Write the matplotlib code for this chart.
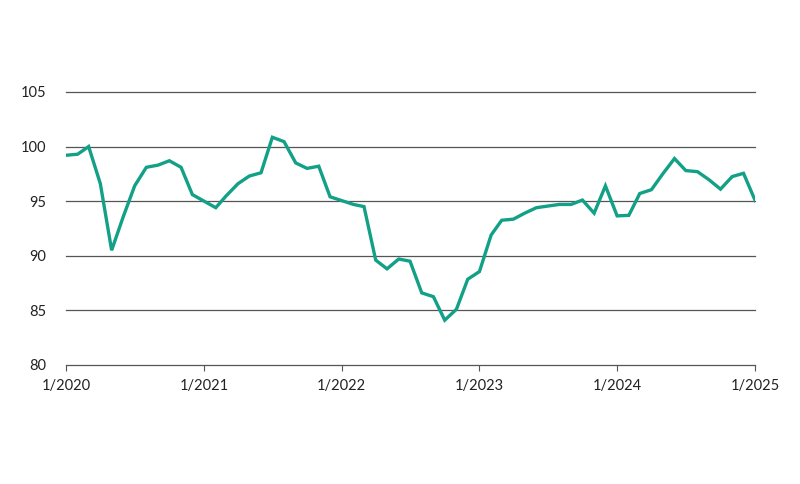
import numpy as np
import pandas as pd
import matplotlib
matplotlib.use('Agg')
import matplotlib.pyplot as plt

# monthly index values, 1/2020 .. 1/2025
values = [
  99.2, 99.3, 100.0, 96.6, 90.5, 93.6, 96.4, 98.1, 98.3, 98.7, 98.1, 95.6,
  95.0, 94.4, 95.5, 96.6, 97.3, 97.6, 100.85, 100.45, 98.5, 98.0, 98.2, 95.4,
  95.05, 94.7, 94.5, 89.6, 88.8, 89.7, 89.5, 86.6, 86.25, 84.1, 85.1, 87.85,
  88.55, 91.9, 93.25, 93.35, 93.9, 94.4, 94.55, 94.7, 94.7, 95.1, 93.9, 96.4,
  93.65, 93.7, 95.7, 96.05, 97.5, 98.9, 97.8, 97.7, 96.95, 96.1, 97.25, 97.55,
  95.05,
]
dates = pd.date_range('2020-01-01', periods=len(values), freq='MS')
tick_years = [2020, 2021, 2022, 2023, 2024, 2025]
y_ticks = [80, 85, 90, 95, 100, 105]

plt.rcParams['font.family'] = ['Lato', 'DejaVu Sans']

fig = plt.figure(figsize=(8, 4.84), dpi=100)
ax = fig.add_axes([0.0825, 0.246, 0.8615, 0.564])

ax.plot(dates, values, color='#12a086', lw=2.4, solid_joinstyle='miter', zorder=3)

ax.set_ylim(80, 105)
ax.set_yticks(y_ticks)
ax.set_xlim(pd.Timestamp('2020-01-01'), pd.Timestamp('2025-01-01'))
ax.set_xticks([pd.Timestamp(f'{y}-01-01') for y in tick_years])
ax.set_xticklabels([f'1/{y}' for y in tick_years])

for y in y_ticks:
  ax.axhline(y, color='#555555', lw=0.9, zorder=1, clip_on=False)

for s in ax.spines.values():
  s.set_visible(False)
ax.tick_params(axis='y', length=0, pad=14, labelsize=10.5, labelcolor='#222222')
ax.tick_params(axis='x', length=4, width=0.8, color='#555555', pad=6,
               labelsize=10.5, labelcolor='#222222')

fig.savefig('out.png', dpi=100)
